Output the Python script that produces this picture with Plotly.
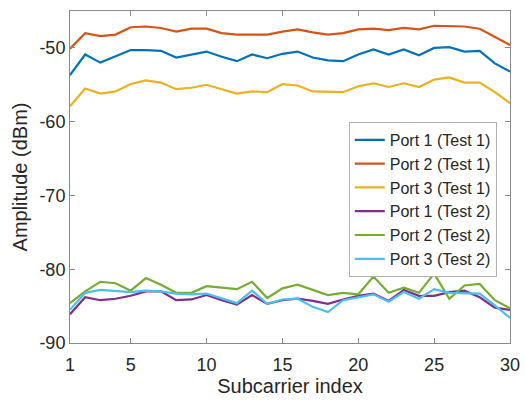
import plotly.graph_objects as go

# Subcarrier indices 1..30
subcarrier = list(range(1, 31))

# Amplitude (dBm) per port, test 1
port1_test1 = [-53.7, -50.9, -52.0, -51.2, -50.3, -50.3, -50.4, -51.3, -50.9, -50.5,
               -51.2, -51.8, -50.9, -51.4, -50.8, -50.5, -51.3, -51.7, -51.8, -50.9,
               -50.2, -50.9, -50.2, -51.0, -50.0, -49.9, -50.5, -50.4, -52.1, -53.2]
port2_test1 = [-50.1, -48.0, -48.4, -48.2, -47.2, -47.1, -47.3, -47.8, -47.4, -47.4,
               -48.0, -48.2, -48.2, -48.2, -47.8, -47.5, -47.9, -48.2, -48.0, -47.5,
               -47.4, -47.6, -47.3, -47.5, -47.0, -47.0, -47.1, -47.4, -48.5, -49.6]
port3_test1 = [-57.9, -55.5, -56.2, -55.9, -54.9, -54.4, -54.7, -55.6, -55.4, -55.0,
               -55.6, -56.2, -55.9, -56.0, -54.9, -55.1, -55.9, -55.9, -56.0, -55.2,
               -54.8, -55.3, -54.8, -55.3, -54.3, -54.0, -54.7, -54.7, -56.0, -57.5]

# Amplitude (dBm) per port, test 2
port1_test2 = [-86.1, -83.8, -84.2, -84.0, -83.6, -83.0, -83.0, -84.2, -84.1, -83.5,
               -84.2, -84.8, -83.5, -84.7, -84.2, -84.0, -84.3, -84.7, -84.1, -83.6,
               -83.3, -84.3, -82.8, -83.6, -83.6, -83.1, -82.9, -83.8, -85.2, -85.5]
port2_test2 = [-84.6, -83.0, -81.7, -81.9, -82.9, -81.2, -82.1, -83.2, -83.2, -82.3,
               -82.5, -82.7, -81.7, -83.9, -82.6, -82.1, -82.8, -83.5, -83.2, -83.4,
               -81.0, -83.2, -82.5, -83.2, -80.6, -84.0, -82.2, -82.0, -84.2, -85.3]
port3_test2 = [-85.5, -83.2, -82.8, -82.9, -83.1, -82.9, -83.0, -83.3, -83.4, -83.3,
               -84.0, -84.6, -82.9, -84.7, -84.1, -84.0, -85.1, -85.8, -84.2, -83.8,
               -83.4, -84.4, -83.1, -84.0, -82.7, -83.2, -83.2, -83.3, -84.9, -86.6]

series_names = ["Port 1 (Test 1)", "Port 2 (Test 1)", "Port 3 (Test 1)",
                "Port 1 (Test 2)", "Port 2 (Test 2)", "Port 3 (Test 2)"]
series_values = [port1_test1, port2_test1, port3_test1,
                 port1_test2, port2_test2, port3_test2]
colors = ["#0072BD", "#D95319", "#EDB120", "#7E2F8E", "#77AC30", "#4DBEEE"]

x_ticks = [1, 5, 10, 15, 20, 25, 30]
y_ticks = [-90, -80, -70, -60, -50]
y_ticklabels = ["-90", "-80", "-70", "-60", "-50"]

FONT = "Liberation Sans, Arial, sans-serif"
TXT = "#262626"
AX = "#8a8a8a"

fig = go.Figure()
for name, vals, c in zip(series_names, series_values, colors):
    fig.add_trace(go.Scatter(x=subcarrier, y=vals, mode="lines", name=name,
                             line=dict(color=c, width=2.2)))

fig.update_layout(
    width=525, height=400,
    margin=dict(l=70, r=15, t=11, b=57),
    paper_bgcolor="white", plot_bgcolor="white",
    font=dict(family=FONT, color=TXT, size=18),
    showlegend=True,
    legend=dict(x=0.970, y=0.666, xanchor="right", yanchor="top",
                bgcolor="white", bordercolor="#b0b0b0", borderwidth=1,
                font=dict(size=16, color=TXT), tracegroupgap=0),
)
fig.update_xaxes(
    range=[1, 30], tickvals=x_ticks, showgrid=False, zeroline=False,
    automargin=False,
    showline=True, linecolor=AX, linewidth=1, mirror="ticks",
    ticks="inside", ticklen=5, tickcolor=AX, ticklabelstandoff=5,
    tickfont=dict(size=18, color=TXT),
    title=dict(text="Subcarrier index", font=dict(size=20, color=TXT), standoff=4),
)
fig.update_yaxes(
    range=[-90, -45], tickvals=y_ticks, ticktext=y_ticklabels,
    showgrid=False, zeroline=False, automargin=False,
    showline=True, linecolor=AX, linewidth=1, mirror="ticks",
    ticks="inside", ticklen=5, tickcolor=AX,
    tickfont=dict(size=18, color=TXT),
    title=dict(text="Amplitude (dBm)", font=dict(size=20, color=TXT), standoff=6),
)

fig.write_html("out.html")
